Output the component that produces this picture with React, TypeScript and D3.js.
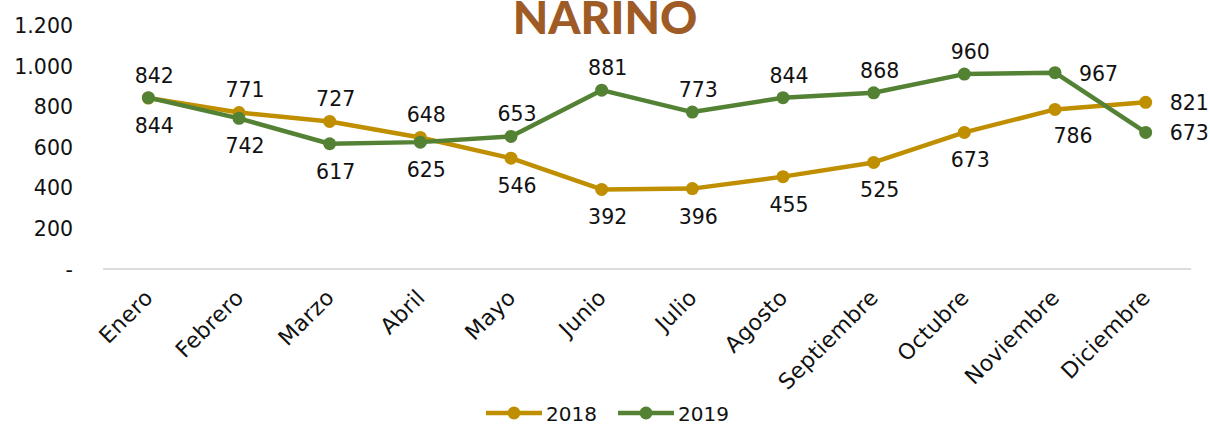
import React from "react";
import * as d3 from "d3";

const months = ["Enero","Febrero","Marzo","Abril","Mayo","Junio","Julio","Agosto","Septiembre","Octubre","Noviembre","Diciembre"];
const values2018 = [842, 771, 727, 648, 546, 392, 396, 455, 525, 673, 786, 821];
const values2019 = [844, 742, 617, 625, 653, 881, 773, 844, 868, 960, 967, 673];
const labelPos2018 = ["a","a","a","a","b","b","b","b","b","b","br","r"];
const labelPos2019 = ["b","b","b","b","a","a","a","a","a","a","r","r"];
const yTicks = [0, 200, 400, 600, 800, 1000, 1200];
const seriesNames = ["2018", "2019"];

const W = 1210, H = 427;
const FONT = "'DejaVu Sans', Lato, sans-serif";
const GOLD = "#BF8F00";
const GREEN = "#548235";

export default function App() {
  const x = d3.scaleBand<string>().domain(months).range([103, 1191]);
  const y = d3.scaleLinear().domain([0, 1200]).range([269, 25.4]);
  const cx = (m: string) => (x(m) as number) + x.bandwidth() / 2;
  const line = d3.line<number>().x((_, i) => cx(months[i])).y((d) => y(d));
  const fmt = (v: number) => (v === 0 ? "-" : d3.format(",")(v).replace(/,/g, "."));

  const series = [
    { name: seriesNames[0], values: values2018, pos: labelPos2018, color: GOLD },
    { name: seriesNames[1], values: values2019, pos: labelPos2019, color: GREEN },
  ];

  const labelAttrs = (p: string, px: number, py: number) => {
    if (p === "a") return { x: px + 6, y: py - 15, anchor: "middle" };
    if (p === "b") return { x: px + 6, y: py + 35, anchor: "middle" };
    if (p === "br") return { x: px + 18, y: py + 34, anchor: "middle" };
    return { x: px + 24, y: py + 8, anchor: "start" };
  };

  return (
    <svg width={W} height={H} style={{ position: "absolute", left: 0, top: 0, background: "#fff" }} fontFamily={FONT}>
      <text x={605} y={34} textAnchor="middle" fontSize={46} fontWeight={900} fill="#9E5B26" fontFamily="Lato, 'DejaVu Sans', sans-serif">NARINO</text>
      {yTicks.map((t) => (
        <text key={t} x={73} y={y(t) + 7.5} textAnchor="end" fontSize={20.5} fill="#111">{fmt(t)}</text>
      ))}
      <line x1={103} x2={1191} y1={y(0)} y2={y(0)} stroke="#d0d0d0" strokeWidth={1.5} />
      {months.map((m) => (
        <text key={m} transform={`translate(${cx(m) - 5},${288}) rotate(-45)`} textAnchor="end" dy="0.7em" fontSize={22} letterSpacing={0.3} fill="#111">{m}</text>
      ))}
      {series.map((s) => (
        <g key={s.name}>
          <path d={line(s.values) as string} fill="none" stroke={s.color} strokeWidth={4.5} strokeLinejoin="round" />
          {s.values.map((v, i) => (
            <circle key={i} cx={cx(months[i])} cy={y(v)} r={6.5} fill={s.color} />
          ))}
        </g>
      ))}
      {series.map((s) =>
        s.values.map((v, i) => {
          const a = labelAttrs(s.pos[i], cx(months[i]), y(v));
          return (
            <text key={s.name + i} x={a.x} y={a.y} textAnchor={a.anchor} fontSize={20.5} fill="#111">{fmt(v)}</text>
          );
        })
      )}
      {series.map((s, i) => {
        const lx = 486 + i * 132;
        return (
          <g key={s.name}>
            <line x1={lx} x2={lx + 56} y1={413} y2={413} stroke={s.color} strokeWidth={4.5} />
            <circle cx={lx + 28} cy={413} r={6.5} fill={s.color} />
            <text x={lx + 60} y={421} fontSize={20} fill="#111">{s.name}</text>
          </g>
        );
      })}
    </svg>
  );
}
